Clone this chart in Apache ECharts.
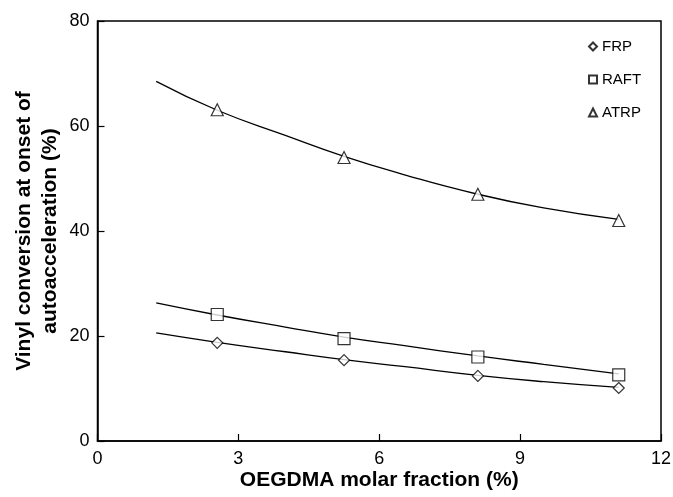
<!DOCTYPE html>
<html>
<head>
<meta charset="utf-8">
<script src="https://cdn.jsdelivr.net/npm/echarts@6/dist/echarts.min.js"></script>
<style>
  html, body { margin: 0; padding: 0; background: #fff; }
  #main { width: 673px; height: 497px; }
</style>
</head>
<body>
<div id="main"></div>
<script>
// measured points
var xPoints = [2.55, 5.25, 8.1, 11.1];
var frp = [18.7, 15.4, 12.4, 10.1];
var raft = [24.1, 19.5, 16.0, 12.6];
var atrp = [63.1, 54.0, 47.0, 42.0];

// fitted curves
var xCurve = [1.25, 2.55, 4, 5.25, 6.5, 8.1, 9.5, 11.1];
var frpCurve = [20.6, 18.8, 17.0, 15.5, 14.2, 12.5, 11.3, 10.2];
var raftCurve = [26.3, 24.0, 21.7, 19.8, 18.2, 16.2, 14.6, 12.8];
var atrpCurve = [68.5, 63.0, 58.2, 54.2, 50.8, 47.0, 44.4, 42.2];

var xTicks = [0, 3, 6, 9, 12];
var yTicks = [0, 20, 40, 60, 80];

function pairs(xs, ys) {
  return xs.map(function (x, i) { return [x, ys[i]]; });
}

var tickFont = { color: '#000', fontSize: 18, fontFamily: 'Liberation Sans, Arial' };
var nameFont = { color: '#000', fontSize: 21, fontWeight: 'bold', fontFamily: 'Liberation Sans, Arial' };

function curve(name, xs, ys) {
  return {
    name: name + ' fit', type: 'line', data: pairs(xs, ys), smooth: true,
    showSymbol: false, silent: true,
    lineStyle: { color: '#000', width: 1.3 }, z: 2
  };
}
function points(name, sym, size, ys) {
  return {
    name: name, type: 'scatter', data: pairs(xPoints, ys), symbol: sym, symbolSize: size,
    itemStyle: { color: '#fff', borderColor: '#000', borderWidth: 1.2 }, z: 3
  };
}

var myChart = echarts.init(document.getElementById('main'));
myChart.setOption({
  animation: false,
  grid: {
    left: 97.5, right: 12, top: 21, bottom: 56, outerBoundsMode: 'none', containLabel: false,
    show: true, borderColor: '#000', borderWidth: 1.5
  },
  legend: {
    orient: 'vertical', left: 588, top: 39, padding: 0, itemGap: 18, itemWidth: 8, itemHeight: 8,
    data: ['FRP', 'RAFT', 'ATRP'],
    textStyle: { color: '#000', fontSize: 15, fontFamily: 'Liberation Sans, Arial' }
  },
  xAxis: {
    type: 'value', min: xTicks[0], max: xTicks[xTicks.length - 1], interval: 3,
    name: 'OEGDMA molar fraction (%)', nameLocation: 'middle', nameGap: 29, nameMoveOverlap: false,
    nameTextStyle: nameFont,
    axisLine: { lineStyle: { color: '#000', width: 1.5 } },
    axisTick: { inside: true, length: 7, lineStyle: { color: '#000', width: 1.2 } },
    axisLabel: Object.assign({ margin: 9 }, tickFont), splitLine: { show: false }
  },
  yAxis: {
    type: 'value', min: yTicks[0], max: yTicks[yTicks.length - 1], interval: 20,
    name: 'Vinyl conversion at onset of\nautoacceleration (%)', nameLocation: 'middle', nameGap: 34,
    nameMoveOverlap: false,
    nameTextStyle: Object.assign({ lineHeight: 26 }, nameFont),
    axisLine: { lineStyle: { color: '#000', width: 1.5 } },
    axisTick: { inside: true, length: 7, lineStyle: { color: '#000', width: 1.2 } },
    axisLabel: Object.assign({ margin: 8 }, tickFont), splitLine: { show: false }
  },
  series: [
    curve('FRP', xCurve, frpCurve),
    curve('RAFT', xCurve, raftCurve),
    curve('ATRP', xCurve, atrpCurve),
    points('FRP', 'diamond', 11, frp),
    points('RAFT', 'rect', 12, raft),
    points('ATRP', 'triangle', 12, atrp)
  ]
});
</script>
</body>
</html>
